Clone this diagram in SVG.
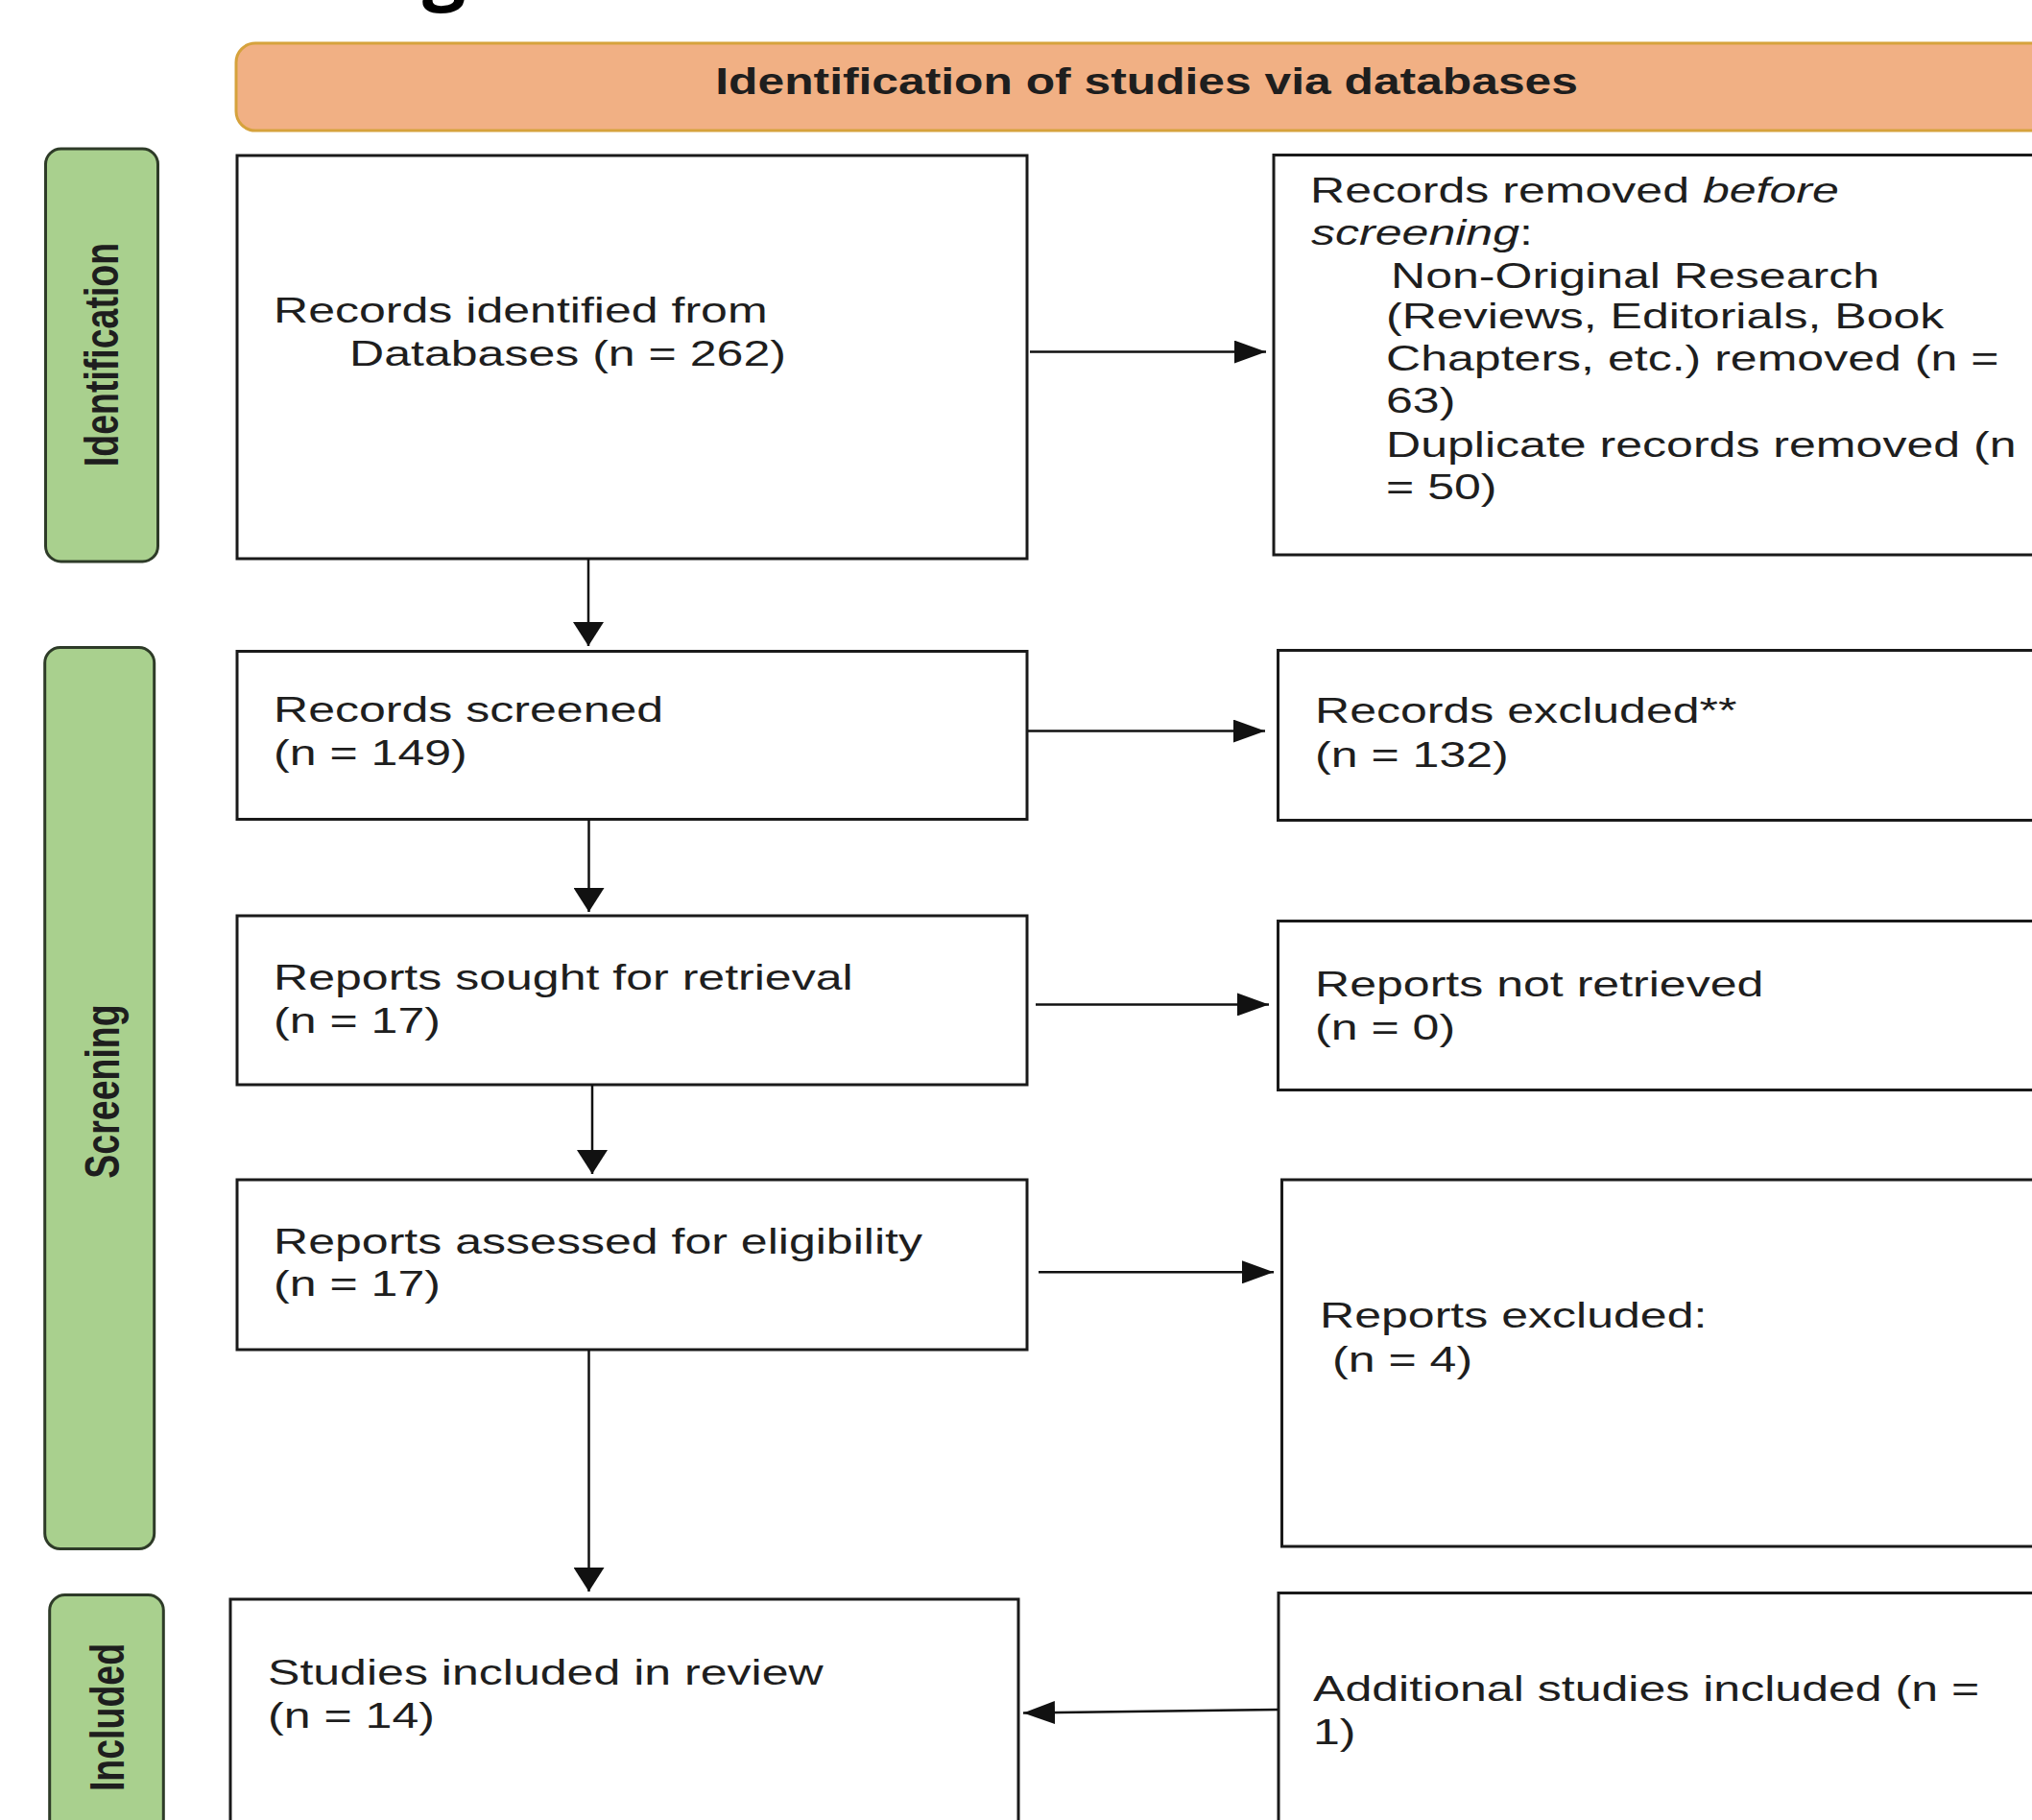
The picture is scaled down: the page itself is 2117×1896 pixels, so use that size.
<svg xmlns="http://www.w3.org/2000/svg" width="2117" height="1896" viewBox="0 0 2117 1896">
<style>
  .box { fill: #ffffff; stroke: #1a1a1a; stroke-width: 3; }
  .phase { fill: #A9D08E; stroke: #2E3B28; stroke-width: 3; }
  .head { fill: #F1B084; stroke: #D6A23C; stroke-width: 3; }
  .t { font-family: "Liberation Sans", Arial, sans-serif; font-size: 37.5px; fill: #1e1e1e; }
  .pt { font-family: "Liberation Sans", Arial, sans-serif; font-size: 37.5px; font-weight: bold; fill: #1e1e1e; text-anchor: middle; }
  .ht { font-family: "Liberation Sans", Arial, sans-serif; font-size: 38px; font-weight: bold; fill: #1e1e1e; text-anchor: middle; }
  .ttl { font-family: "Open Sans", "Noto Sans", sans-serif; font-size: 80px; font-weight: bold; fill: #000000; }
  .conn { fill: none; stroke: #111111; stroke-width: 2.5; }
  .ch { marker-end: url(#ah); }
  .cv { marker-end: url(#av); }
</style>
<defs>
  <marker id="ah" markerUnits="userSpaceOnUse" viewBox="0 0 33 24" refX="33" refY="12" markerWidth="33" markerHeight="24" orient="auto">
    <path d="M0,0 L33,12 L0,24 Z" fill="#111111"/>
  </marker>
  <marker id="av" markerUnits="userSpaceOnUse" viewBox="0 0 25 32" refX="25" refY="16" markerWidth="25" markerHeight="32" orient="auto">
    <path d="M0,0 L25,16 L0,32 Z" fill="#111111"/>
  </marker>
</defs>
<rect width="2117" height="1896" fill="#ffffff"/>

<text class="ttl" x="440" y="-5">g</text>

<g id="header">
  <rect class="head" x="246" y="45" width="1960" height="91" rx="20"/>
  <text class="ht" transform="translate(1194.6 98.4) scale(1.31 1)">Identification of studies via databases</text>
</g>

<g id="phase-identification">
  <rect class="phase" x="47.5" y="155" width="117" height="430" rx="16"/>
  <text class="pt" transform="translate(123 369.5) scale(1.32 1) rotate(-90)">Identification</text>
</g>
<g id="phase-screening">
  <rect class="phase" x="46.7" y="674.6" width="114" height="939" rx="16"/>
  <text class="pt" transform="translate(123.5 1137) scale(1.32 1) rotate(-90)">Screening</text>
</g>
<g id="phase-included">
  <rect class="phase" x="51.7" y="1661.5" width="118.6" height="300" rx="16"/>
  <text class="pt" transform="translate(128.5 1789) scale(1.32 1) rotate(-90)">Included</text>
</g>

<g id="records-identified">
  <rect class="box" x="247" y="162" width="823" height="420"/>
  <text class="t" transform="translate(285 336) scale(1.335 1)">Records identified from</text>
  <text class="t" transform="translate(364 380.8) scale(1.335 1)">Databases (n = 262)</text>
</g>

<g id="records-removed">
  <rect class="box" x="1327" y="161.5" width="900" height="416.5"/>
  <text class="t" transform="translate(1365 210.5) scale(1.335 1)">Records removed <tspan font-style="italic">before</tspan></text>
  <text class="t" transform="translate(1366 254.8) scale(1.335 1)"><tspan font-style="italic">screening</tspan>:</text>
  <text class="t" transform="translate(1449 299.5) scale(1.335 1)">Non-Original Research</text>
  <text class="t" transform="translate(1444 341.6) scale(1.335 1)">(Reviews, Editorials, Book</text>
  <text class="t" transform="translate(1444 385.6) scale(1.335 1)">Chapters, etc.) removed (n =</text>
  <text class="t" transform="translate(1444 430.4) scale(1.335 1)">63)</text>
  <text class="t" transform="translate(1444 476.4) scale(1.335 1)">Duplicate records removed (n</text>
  <text class="t" transform="translate(1444 520.4) scale(1.335 1)">= 50)</text>
</g>

<g id="records-screened">
  <rect class="box" x="247" y="678.5" width="823" height="175"/>
  <text class="t" transform="translate(285 752.3) scale(1.335 1)">Records screened</text>
  <text class="t" transform="translate(285 797) scale(1.335 1)">(n = 149)</text>
</g>

<g id="records-excluded">
  <rect class="box" x="1331.5" y="677.5" width="900" height="177"/>
  <text class="t" transform="translate(1370 753) scale(1.335 1)">Records excluded**</text>
  <text class="t" transform="translate(1370 798.7) scale(1.335 1)">(n = 132)</text>
</g>

<g id="reports-sought">
  <rect class="box" x="247" y="954" width="823" height="176"/>
  <text class="t" transform="translate(285 1030.5) scale(1.335 1)">Reports sought for retrieval</text>
  <text class="t" transform="translate(285 1075.5) scale(1.335 1)">(n = 17)</text>
</g>

<g id="reports-not-retrieved">
  <rect class="box" x="1331.5" y="959.5" width="900" height="176"/>
  <text class="t" transform="translate(1370 1037.5) scale(1.335 1)">Reports not retrieved</text>
  <text class="t" transform="translate(1370 1083) scale(1.335 1)">(n = 0)</text>
</g>

<g id="reports-assessed">
  <rect class="box" x="247" y="1229" width="823" height="177"/>
  <text class="t" transform="translate(285 1305.5) scale(1.335 1)">Reports assessed for eligibility</text>
  <text class="t" transform="translate(285 1350) scale(1.335 1)">(n = 17)</text>
</g>

<g id="reports-excluded">
  <rect class="box" x="1335.5" y="1229" width="900" height="382"/>
  <text class="t" transform="translate(1375 1383.4) scale(1.335 1)">Reports excluded:</text>
  <text class="t" transform="translate(1388 1429.4) scale(1.335 1)">(n = 4)</text>
</g>

<g id="studies-included">
  <rect class="box" x="240" y="1666" width="821" height="280"/>
  <text class="t" transform="translate(279 1755.4) scale(1.335 1)">Studies included in review</text>
  <text class="t" transform="translate(279 1799.5) scale(1.335 1)">(n = 14)</text>
</g>

<g id="additional-studies">
  <rect class="box" x="1332" y="1659.5" width="900" height="290"/>
  <text class="t" transform="translate(1368 1772.4) scale(1.335 1)">Additional studies included (n =</text>
  <text class="t" transform="translate(1368 1817) scale(1.335 1)">1)</text>
</g>

<g id="connectors">
  <path class="conn cv" d="M613,582 L613,673"/>
  <path class="conn cv" d="M613.5,853.5 L613.5,950"/>
  <path class="conn cv" d="M617,1130 L617,1223"/>
  <path class="conn cv" d="M613.5,1406 L613.5,1658"/>
  <path class="conn ch" d="M1073,366.6 L1319,366.6"/>
  <path class="conn ch" d="M1071,761.6 L1318,761.6"/>
  <path class="conn ch" d="M1079,1046.4 L1322,1046.4"/>
  <path class="conn ch" d="M1082,1325.3 L1327,1325.3"/>
  <path class="conn ch" d="M1331,1781 L1066,1784.5"/>
</g>
</svg>
